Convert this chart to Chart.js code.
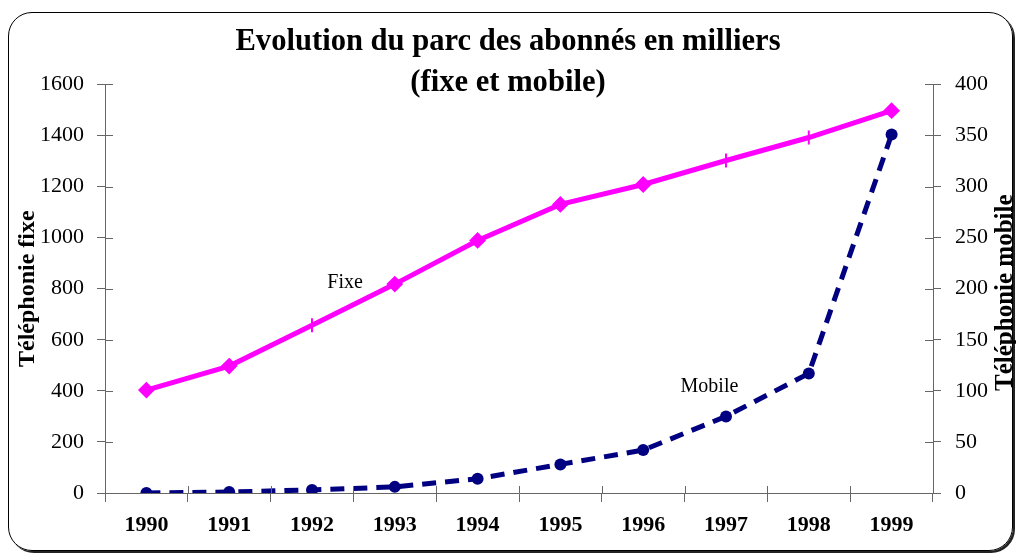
<!DOCTYPE html>
<html>
<head>
<meta charset="utf-8">
<script src="https://cdn.jsdelivr.net/npm/chart.js@4"></script>
<style>
  html, body { margin: 0; padding: 0; background: #fff; }
  #box { position: absolute; left: 0; top: 0; width: 1016px; height: 554px; }
  #frame {
    position: absolute; left: 8px; top: 12px; width: 1003px; height: 537px;
    border: 1px solid #000; border-radius: 24px;
    box-shadow: 2px 2px 0 #222; pointer-events: none;
  }
</style>
</head>
<body>
<div id="frame"></div>
<div id="box"><canvas id="myChart" width="1016" height="554"></canvas></div>
<script>
const years = ['1990', '1991', '1992', '1993', '1994', '1995', '1996', '1997', '1998', '1999'];
// abonnés en milliers
const fixe = [403, 497, 657, 818, 989, 1130, 1208, 1302, 1392, 1497];
const mobile = [0, 1, 3, 6, 14, 28, 42, 75, 117, 351];
const fixeTicks = [0, 200, 400, 600, 800, 1000, 1200, 1400, 1600];
const mobileTicks = [0, 50, 100, 150, 200, 250, 300, 350, 400];

// excel drew some of the fixe markers as little bars
const fixeMarks = ['rectRot', 'rectRot', 'line', 'rectRot', 'rectRot', 'rectRot', 'rectRot', 'line', 'line', 'rectRot'];

const serif = "'Liberation Serif', 'Times New Roman', serif";
const axisColor = '#666';

// ticks that cross the axis line (inner half)
const innerTicks = {
    id: 'innerTicks',
    afterDatasetsDraw(chart) {
        const ctx = chart.ctx;
        const a = chart.chartArea;
        ctx.save();
        ctx.strokeStyle = axisColor;
        ctx.lineWidth = 1;
        ctx.beginPath();
        chart.scales.y.ticks.forEach((t, i) => {
            let py = Math.round(chart.scales.y.getPixelForTick(i)) + 0.5;
            ctx.moveTo(a.left, py); ctx.lineTo(a.left + 8, py);
        });
        chart.scales.y2.ticks.forEach((t, i) => {
            let py = Math.round(chart.scales.y2.getPixelForTick(i)) + 0.5;
            ctx.moveTo(a.right, py); ctx.lineTo(a.right - 8, py);
        });
        const xs = chart.scales.x;
        for (let i = 0; i <= years.length; i++) {
            let px = Math.round(xs.getPixelForValue(i - 0.5)) + 0.5;
            ctx.moveTo(px, a.bottom); ctx.lineTo(px, a.bottom - 7);
        }
        ctx.stroke();
        ctx.restore();
    }
};

// the "Fixe" / "Mobile" words next to the lines + right axis title (reads bottom to top)
const seriesLabels = {
    id: 'seriesLabels',
    afterDatasetsDraw(chart, args, opts) {
        const ctx = chart.ctx;
        const a = chart.chartArea;
        ctx.save();
        ctx.font = '20px ' + serif;
        ctx.fillStyle = '#000';
        ctx.textAlign = 'center';
        ctx.textBaseline = 'middle';
        opts.items.forEach(it => {
            let px = chart.scales.x.getPixelForValue(it.at);
            let py = chart.scales[it.axis].getPixelForValue(it.value);
            ctx.fillText(it.text, px, py);
        });
        ctx.translate(chart.width - 10, (a.top + a.bottom) / 2 + 4);
        ctx.rotate(-Math.PI / 2);
        ctx.font = 'bold 25px ' + serif;
        ctx.fillText(opts.rightTitle, 0, 0);
        ctx.restore();
    }
};

const ctx = document.getElementById('myChart');

new Chart(ctx, {
    type: 'line',
    data: {
        labels: years,
        datasets: [{
            label: 'Fixe',
            data: fixe,
            yAxisID: 'y',
            borderColor: '#ff00ff',
            backgroundColor: '#ff00ff',
            borderWidth: 5,
            pointStyle: fixeMarks,
            pointRotation: 90,
            pointRadius: 7,
            pointBorderWidth: 2,
            tension: 0,
        }, {
            label: 'Mobile',
            data: mobile,
            yAxisID: 'y2',
            borderColor: '#000080',
            backgroundColor: '#000080',
            borderWidth: 5,
            borderDash: [14, 9],
            pointStyle: 'circle',
            pointRadius: 6,
            pointBorderWidth: 0,
            tension: 0,
        }]
    },
    plugins: [innerTicks, seriesLabels],
    options: {
        responsive: false,
        animation: false,
        events: [],
        layout: {
            padding: { left: 0, right: 0, top: 12, bottom: 8 }
        },
        plugins: {
            legend: { display: false },
            tooltip: { enabled: false },
            title: {
                display: true,
                text: ['Evolution du parc des abonnés en milliers', '(fixe et mobile)'],
                color: '#000',
                font: { family: serif, size: 30.6, weight: 'bold', lineHeight: 1.33 },
                padding: { top: 10, bottom: -19 }
            },
            seriesLabels: {
                rightTitle: 'Téléphonie mobile',
                items: [
                    { text: 'Fixe', at: 2.4, axis: 'y', value: 822 },
                    { text: 'Mobile', at: 6.8, axis: 'y2', value: 104 }
                ]
            }
        },
        scales: {
            x: {
                offset: true,
                grid: {
                    offset: true,
                    drawOnChartArea: false,
                    color: axisColor,
                    tickLength: 9,
                },
                border: { color: axisColor, width: 1 },
                ticks: {
                    color: '#000',
                    padding: 10,
                    maxRotation: 0,
                    font: { family: serif, size: 22, weight: 'bold' }
                },
                afterFit: (s) => { s.height = 53; }
            },
            y: {
                position: 'left',
                min: 0,
                max: 1600,
                afterBuildTicks: (s) => { s.ticks = fixeTicks.map(v => ({ value: v })); },
                grid: { drawOnChartArea: false, color: axisColor, tickLength: 8 },
                border: { color: axisColor, width: 1 },
                ticks: {
                    color: '#000',
                    padding: 13,
                    font: { family: serif, size: 22 },
                    callback: (v) => String(v)
                },
                title: {
                    display: true,
                    text: 'Téléphonie fixe',
                    color: '#000',
                    font: { family: serif, size: 24, weight: 'bold', lineHeight: 1 },
                    padding: { top: 16, bottom: 0 }
                },
                afterFit: (s) => { s.width = 105; }
            },
            y2: {
                position: 'right',
                min: 0,
                max: 400,
                afterBuildTicks: (s) => { s.ticks = mobileTicks.map(v => ({ value: v })); },
                grid: { drawOnChartArea: false, color: axisColor, tickLength: 8 },
                border: { color: axisColor, width: 1 },
                ticks: {
                    color: '#000',
                    padding: 14,
                    font: { family: serif, size: 22 },
                    callback: (v) => String(v)
                },
                afterFit: (s) => { s.width = 83; }
            }
        }
    }
});
</script>
</body>
</html>
